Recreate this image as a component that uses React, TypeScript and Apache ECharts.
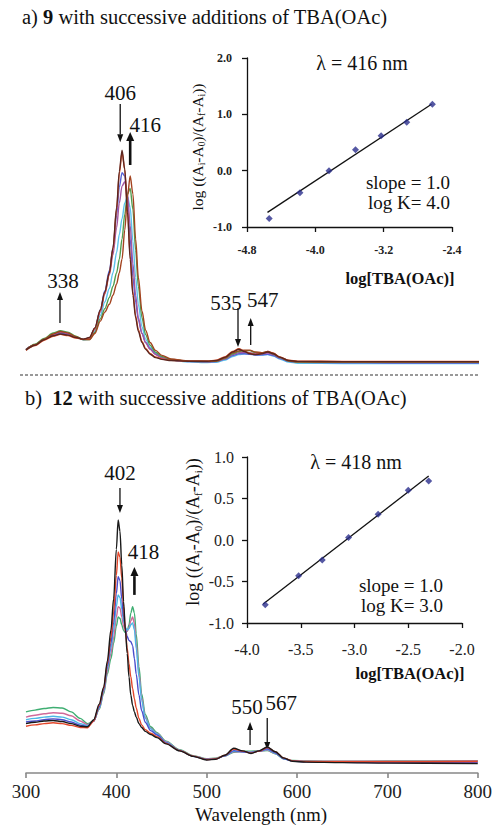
import React, { useEffect, useRef } from "react";
import * as echarts from "echarts";

const SERIF = "Liberation Serif, Times New Roman, serif";

// ---- Panel a: absorption spectra of 9 during titration ----
const wavelengthsA = [300, 310, 320, 330, 338, 346, 355, 363, 370, 376, 382, 387, 392, 396, 400, 403, 406, 409, 412, 415, 418, 421, 424, 428, 432, 437, 443, 450, 460, 480, 500, 510, 520, 528, 535, 541, 547, 553, 560, 567, 573, 580, 590, 600, 650, 700, 800];
const specA1 = [0.067, 0.088, 0.112, 0.13, 0.138, 0.133, 0.122, 0.115, 0.122, 0.165, 0.245, 0.325, 0.41, 0.52, 0.7, 0.86, 0.955, 0.87, 0.68, 0.47, 0.31, 0.21, 0.15, 0.1, 0.07, 0.048, 0.033, 0.025, 0.02, 0.017, 0.017, 0.02, 0.035, 0.058, 0.07, 0.06, 0.05, 0.046, 0.05, 0.058, 0.05, 0.035, 0.02, 0.016, 0.015, 0.015, 0.015];
const specA2 = [0.065, 0.086, 0.11, 0.128, 0.136, 0.131, 0.12, 0.114, 0.12, 0.162, 0.24, 0.32, 0.405, 0.515, 0.69, 0.85, 0.945, 0.868, 0.69, 0.485, 0.325, 0.22, 0.158, 0.105, 0.074, 0.051, 0.036, 0.027, 0.021, 0.018, 0.018, 0.021, 0.037, 0.06, 0.072, 0.062, 0.052, 0.047, 0.051, 0.06, 0.052, 0.036, 0.021, 0.017, 0.016, 0.016, 0.016];
const specA3 = [0.07, 0.09, 0.114, 0.133, 0.142, 0.136, 0.123, 0.114, 0.12, 0.163, 0.245, 0.33, 0.42, 0.52, 0.665, 0.79, 0.855, 0.84, 0.73, 0.56, 0.39, 0.28, 0.2, 0.14, 0.1, 0.072, 0.048, 0.032, 0.022, 0.015, 0.013, 0.015, 0.026, 0.042, 0.05, 0.05, 0.048, 0.044, 0.045, 0.048, 0.042, 0.03, 0.016, 0.012, 0.01, 0.009, 0.009];
const specA4 = [0.069, 0.09, 0.115, 0.136, 0.146, 0.14, 0.125, 0.114, 0.118, 0.158, 0.235, 0.315, 0.4, 0.49, 0.61, 0.72, 0.795, 0.815, 0.76, 0.62, 0.45, 0.31, 0.21, 0.14, 0.1, 0.07, 0.047, 0.032, 0.022, 0.016, 0.014, 0.016, 0.028, 0.046, 0.055, 0.056, 0.055, 0.05, 0.05, 0.053, 0.046, 0.032, 0.018, 0.013, 0.012, 0.012, 0.012];
const specA5 = [0.066, 0.088, 0.113, 0.135, 0.146, 0.14, 0.124, 0.112, 0.114, 0.15, 0.22, 0.28, 0.34, 0.41, 0.5, 0.58, 0.65, 0.72, 0.75, 0.7, 0.55, 0.39, 0.27, 0.17, 0.115, 0.078, 0.052, 0.034, 0.022, 0.014, 0.011, 0.012, 0.022, 0.038, 0.046, 0.05, 0.05, 0.045, 0.044, 0.046, 0.04, 0.027, 0.013, 0.008, 0.006, 0.006, 0.006];
const specA6 = [0.068, 0.092, 0.118, 0.142, 0.152, 0.146, 0.128, 0.113, 0.113, 0.145, 0.205, 0.25, 0.3, 0.35, 0.41, 0.47, 0.56, 0.67, 0.76, 0.785, 0.69, 0.51, 0.35, 0.21, 0.135, 0.088, 0.057, 0.038, 0.025, 0.016, 0.015, 0.017, 0.03, 0.05, 0.06, 0.064, 0.064, 0.056, 0.054, 0.058, 0.05, 0.034, 0.018, 0.013, 0.012, 0.012, 0.012];
const specA7 = [0.068, 0.09, 0.115, 0.138, 0.149, 0.143, 0.126, 0.113, 0.113, 0.14, 0.195, 0.235, 0.27, 0.31, 0.36, 0.41, 0.47, 0.6, 0.75, 0.84, 0.76, 0.56, 0.39, 0.24, 0.155, 0.1, 0.065, 0.043, 0.027, 0.017, 0.016, 0.018, 0.032, 0.054, 0.063, 0.066, 0.066, 0.058, 0.055, 0.06, 0.052, 0.035, 0.019, 0.014, 0.013, 0.013, 0.013];

// ---- Panel b: absorption spectra of 12 during titration ----
const wavelengthsB = [300, 310, 320, 330, 340, 350, 360, 368, 375, 381, 386, 390, 394, 397, 400, 402, 404, 406, 408, 410, 412, 414, 416, 418, 420, 422, 425, 428, 432, 438, 445, 455, 470, 485, 500, 510, 520, 530, 540, 549, 558, 567, 576, 585, 595, 610, 650, 700, 800];
const specB1 = [0.19, 0.195, 0.2, 0.202, 0.198, 0.19, 0.18, 0.178, 0.205, 0.265, 0.33, 0.43, 0.55, 0.67, 0.86, 0.973, 0.93, 0.8, 0.66, 0.55, 0.46, 0.37, 0.3, 0.26, 0.235, 0.215, 0.19, 0.175, 0.16, 0.148, 0.136, 0.112, 0.085, 0.064, 0.05, 0.053, 0.068, 0.095, 0.085, 0.075, 0.085, 0.1, 0.082, 0.058, 0.045, 0.042, 0.04, 0.038, 0.036];
const specB2 = [0.18, 0.185, 0.19, 0.193, 0.19, 0.183, 0.175, 0.174, 0.2, 0.26, 0.325, 0.42, 0.52, 0.62, 0.76, 0.85, 0.83, 0.75, 0.64, 0.55, 0.48, 0.42, 0.37, 0.325, 0.285, 0.25, 0.21, 0.185, 0.167, 0.153, 0.14, 0.114, 0.086, 0.065, 0.052, 0.054, 0.068, 0.092, 0.084, 0.076, 0.084, 0.098, 0.082, 0.058, 0.046, 0.044, 0.043, 0.043, 0.044];
const specB3 = [0.196, 0.2, 0.205, 0.208, 0.205, 0.196, 0.184, 0.178, 0.2, 0.255, 0.32, 0.41, 0.5, 0.58, 0.69, 0.755, 0.74, 0.67, 0.6, 0.555, 0.525, 0.51, 0.505, 0.49, 0.44, 0.38, 0.3, 0.24, 0.195, 0.163, 0.146, 0.116, 0.086, 0.064, 0.052, 0.054, 0.066, 0.086, 0.082, 0.078, 0.084, 0.093, 0.078, 0.056, 0.046, 0.043, 0.041, 0.04, 0.04];
const specB4 = [0.205, 0.21, 0.215, 0.218, 0.215, 0.205, 0.19, 0.182, 0.2, 0.25, 0.315, 0.4, 0.48, 0.55, 0.64, 0.685, 0.675, 0.63, 0.585, 0.56, 0.55, 0.555, 0.57, 0.577, 0.55, 0.48, 0.37, 0.28, 0.21, 0.17, 0.15, 0.118, 0.087, 0.065, 0.053, 0.055, 0.066, 0.083, 0.082, 0.08, 0.084, 0.09, 0.076, 0.055, 0.046, 0.044, 0.043, 0.043, 0.043];
const specB5 = [0.215, 0.222, 0.228, 0.232, 0.23, 0.22, 0.2, 0.186, 0.2, 0.248, 0.31, 0.39, 0.46, 0.52, 0.6, 0.64, 0.635, 0.6, 0.565, 0.545, 0.545, 0.56, 0.585, 0.6, 0.575, 0.5, 0.385, 0.29, 0.215, 0.172, 0.152, 0.12, 0.088, 0.066, 0.054, 0.056, 0.066, 0.082, 0.082, 0.081, 0.084, 0.088, 0.075, 0.055, 0.047, 0.045, 0.045, 0.045, 0.046];
const specB6 = [0.235, 0.242, 0.248, 0.252, 0.25, 0.235, 0.21, 0.19, 0.2, 0.245, 0.305, 0.38, 0.44, 0.5, 0.565, 0.6, 0.595, 0.57, 0.548, 0.54, 0.545, 0.57, 0.615, 0.64, 0.615, 0.535, 0.41, 0.305, 0.225, 0.178, 0.155, 0.122, 0.09, 0.067, 0.055, 0.057, 0.066, 0.08, 0.083, 0.084, 0.085, 0.086, 0.074, 0.055, 0.048, 0.046, 0.045, 0.046, 0.047];

// ---- Inset a: log ratio vs log[TBA(OAc)] at 416 nm ----
const logConcA = [-4.54, -4.18, -3.84, -3.53, -3.23, -2.93, -2.63];
const logRatioA = [-0.85, -0.39, 0.0, 0.37, 0.62, 0.86, 1.18];
const fitA = { slope: 1.0, intercept: 3.82, from: -4.56, to: -2.64 };

// ---- Inset b: log ratio vs log[TBA(OAc)] at 418 nm ----
const logConcB = [-3.83, -3.52, -3.3, -3.055, -2.78, -2.5, -2.31];
const logRatioB = [-0.78, -0.43, -0.24, 0.03, 0.31, 0.6, 0.71];
const fitB = { slope: 1.0, intercept: 3.08, from: -3.85, to: -2.31 };

// Peak annotations: arrow from/to absorbance at a wavelength, label offset in px
const arrowsA = [
  { text: "406", wl: 404, from: 1.16, to: 0.99, dx: 0, dy: -11, thick: false },
  { text: "416", wl: 415, from: 0.889, to: 1.036, dx: 15, dy: -7, thick: true },
  { text: "338", wl: 337.5, from: 0.187, to: 0.324, dx: 3, dy: -11, thick: false },
  { text: "535", wl: 534, from: 0.253, to: 0.08, dx: -12, dy: -5, thick: false },
  { text: "547", wl: 548, from: 0.089, to: 0.209, dx: 12, dy: -18, thick: false },
];
const arrowsB = [
  { text: "402", wl: 404, from: 1.096, to: 1.0, dx: 0, dy: -15, thick: false },
  { text: "418", wl: 420, from: 0.685, to: 0.792, dx: 9, dy: -15, thick: true },
  { text: "550", wl: 548, from: 0.108, to: 0.196, dx: -3, dy: -15, thick: false },
  { text: "567", wl: 567, from: 0.212, to: 0.088, dx: 14, dy: -15, thick: false },
];

const zip = (xs: number[], ys: number[]) => xs.map((x, i) => [x, ys[i]]);

function spectrum(name: string, xs: number[], ys: number[], color: string, grid: number) {
  return {
    name,
    type: "line",
    xAxisIndex: grid,
    yAxisIndex: grid,
    data: zip(xs, ys),
    showSymbol: false,
    smooth: 0.3,
    smoothMonotone: "x",
    lineStyle: { color, width: 1.4 },
    silent: true,
  };
}

function fitLine(fit: { slope: number; intercept: number; from: number; to: number }, grid: number) {
  return {
    type: "line",
    xAxisIndex: grid,
    yAxisIndex: grid,
    data: [
      [fit.from, fit.slope * fit.from + fit.intercept],
      [fit.to, fit.slope * fit.to + fit.intercept],
    ],
    showSymbol: false,
    lineStyle: { color: "#111", width: 1.3 },
    silent: true,
    z: 3,
  };
}

function points(xs: number[], ys: number[], grid: number) {
  return {
    type: "scatter",
    xAxisIndex: grid,
    yAxisIndex: grid,
    data: zip(xs, ys),
    symbol: "diamond",
    symbolSize: 7,
    itemStyle: { color: "#2b2e8c" },
    silent: true,
    z: 4,
  };
}

const fmt1 = (v: number) => v.toFixed(1);

function insetAxes(grid: number, xr: [number, number, number], yr: [number, number, number], font: number, bold: boolean, xMargin: number, yMargin: number) {
  const line = { lineStyle: { color: "#111", width: 1.3 } };
  const tick = { show: true, length: 5, lineStyle: { color: "#111", width: 1.3 } };
  const label = {
    fontFamily: SERIF,
    fontSize: font,
    fontWeight: bold ? "bold" : "normal",
    color: "#222",
    formatter: fmt1,
  };
  return {
    x: {
      gridIndex: grid, type: "value", min: xr[0], max: xr[1], interval: xr[2],
      axisLine: { show: true, onZero: false, ...line }, axisTick: tick,
      axisLabel: { ...label, margin: xMargin }, splitLine: { show: false },
    },
    y: {
      gridIndex: grid, type: "value", min: yr[0], max: yr[1], interval: yr[2],
      axisLine: { show: true, onZero: false, ...line }, axisTick: tick,
      axisLabel: { ...label, margin: yMargin }, splitLine: { show: false },
    },
  };
}

function buildOption() {
  const insA = insetAxes(2, [-4.8, -2.4, 0.8], [-1, 2, 1], 12, true, 17, 15);
  const insB = insetAxes(3, [-4, -2, 0.5], [-1, 1, 0.5], 16, false, 18, 13);
  return {
    animation: false,
    backgroundColor: "#ffffff",
    textStyle: { fontFamily: SERIF },
    grid: [
      { left: 26, top: 140, width: 453, height: 225 },
      { left: 26, top: 513, width: 453, height: 260 },
      { left: 247, top: 58, width: 205, height: 169 },
      { left: 247, top: 457, width: 215, height: 166 },
    ],
    xAxis: [
      { gridIndex: 0, type: "value", min: 300, max: 800, show: false },
      {
        gridIndex: 1, type: "value", min: 300, max: 800, interval: 100,
        axisLine: { show: true, onZero: false, lineStyle: { color: "#888", width: 1.6 } },
        axisTick: { show: true, length: 5, lineStyle: { color: "#888", width: 1.6 } },
        axisLabel: { fontFamily: SERIF, fontSize: 19, color: "#222", margin: 9 },
        splitLine: { show: false },
      },
      insA.x,
      insB.x,
    ],
    yAxis: [
      { gridIndex: 0, type: "value", min: 0, max: 1, show: false },
      { gridIndex: 1, type: "value", min: 0, max: 1, show: false },
      insA.y,
      insB.y,
    ],
    series: [
      spectrum("a5", wavelengthsA, specA5, "#5cc2ec", 0),
      spectrum("a3", wavelengthsA, specA3, "#5662d6", 0),
      spectrum("a4", wavelengthsA, specA4, "#a4569f", 0),
      spectrum("a6", wavelengthsA, specA6, "#4f9d4f", 0),
      spectrum("a2", wavelengthsA, specA2, "#e4572e", 0),
      spectrum("a7", wavelengthsA, specA7, "#a3431f", 0),
      spectrum("a1", wavelengthsA, specA1, "#5a2620", 0),
      spectrum("b6", wavelengthsB, specB6, "#3fae72", 1),
      spectrum("b5", wavelengthsB, specB5, "#d06a9a", 1),
      spectrum("b4", wavelengthsB, specB4, "#4cb8e6", 1),
      spectrum("b3", wavelengthsB, specB3, "#4a4ccc", 1),
      spectrum("b2", wavelengthsB, specB2, "#e4462a", 1),
      spectrum("b1", wavelengthsB, specB1, "#1a1a1a", 1),
      fitLine(fitA, 2),
      points(logConcA, logRatioA, 2),
      fitLine(fitB, 3),
      points(logConcB, logRatioB, 3),
    ],
  };
}

const txt = (x: number, y: number, text: string, size: number, align = "center", weight = "normal") => ({
  type: "text",
  x,
  y,
  silent: true,
  style: {
    text,
    fontFamily: SERIF,
    fontSize: size,
    fontWeight: weight,
    fill: "#111",
    align,
    verticalAlign: "middle",
  },
});

function richTitle(x: number, y: number, prefix: string, num: string) {
  return {
    type: "text",
    x,
    y,
    silent: true,
    style: {
      text: `{n|${prefix}}{b|${num}}{n| with successive additions of TBA(OAc)}`,
      align: "left",
      verticalAlign: "middle",
      fontFamily: SERIF,
      rich: {
        n: { fontFamily: SERIF, fontSize: 20.5, fill: "#111" },
        b: { fontFamily: SERIF, fontSize: 20.5, fontWeight: "bold", fill: "#111" },
      },
    },
  };
}

function ratioAxisName(x: number, y: number, size: number) {
  return {
    type: "text",
    x,
    y,
    rotation: Math.PI / 2,
    silent: true,
    style: {
      text: "{n|log ((A}{s|i}{n|-A}{s|0}{n|)/(A}{s|f}{n|-A}{s|i}{n|))}",
      align: "center",
      verticalAlign: "middle",
      fontFamily: SERIF,
      rich: {
        n: { fontFamily: SERIF, fontSize: size, fill: "#111", lineHeight: size + 3 },
        s: { fontFamily: SERIF, fontSize: size * 0.6, fill: "#111", lineHeight: size + 3, verticalAlign: "bottom" },
      },
    },
  };
}

function buildGraphics(chart: any) {
  const out: any[] = [
    richTitle(22, 17, "a) ", "9"),
    richTitle(25, 398, "b)  ", "12"),
    {
      type: "line",
      silent: true,
      shape: { x1: 20, y1: 375, x2: 478, y2: 375 },
      style: { stroke: "#333", lineWidth: 1.2, lineDash: [3, 2] },
    },
    txt(362, 63, "λ = 416 nm", 20),
    txt(450, 182, "slope = 1.0", 19, "right"),
    txt(450, 202, "log K= 4.0", 19, "right"),
    txt(400, 278, "log[TBA(OAc)]", 16.5, "center", "bold"),
    ratioAxisName(197, 147, 15.5),
    txt(356, 462, "λ = 418 nm", 20),
    txt(443, 585, "slope = 1.0", 19, "right"),
    txt(443, 605, "log K= 3.0", 19, "right"),
    txt(410, 673, "log[TBA(OAc)]", 16.5, "center", "bold"),
    ratioAxisName(193, 532, 18),
    txt(261, 814.5, "Wavelength (nm)", 19),
  ];

  const addArrows = (grid: number, list: typeof arrowsA) => {
    list.forEach((a) => {
      const p1 = chart.convertToPixel({ gridIndex: grid }, [a.wl, a.from]);
      const p2 = chart.convertToPixel({ gridIndex: grid }, [a.wl, a.to]);
      const w = a.thick ? 8 : 6;
      const h = a.thick ? 9 : 8;
      const dir = p2[1] < p1[1] ? -1 : 1; // -1 = pointing up
      const baseY = p2[1] - dir * h;
      out.push({
        type: "line",
        silent: true,
        shape: { x1: p1[0], y1: p1[1], x2: p2[0], y2: baseY },
        style: { stroke: "#111", lineWidth: a.thick ? 2.6 : 1.3 },
      });
      out.push({
        type: "polygon",
        silent: true,
        shape: { points: [[p2[0], p2[1]], [p2[0] - w / 2, baseY], [p2[0] + w / 2, baseY]] },
        style: { fill: "#111" },
      });
      const topY = Math.min(p1[1], p2[1]);
      out.push(txt(p1[0] + a.dx, topY + a.dy, a.text, 21));
    });
  };
  addArrows(0, arrowsA);
  addArrows(1, arrowsB);
  return out;
}

export default function App() {
  const ref = useRef<HTMLDivElement>(null);
  useEffect(() => {
    document.body.style.margin = "0";
    const chart = echarts.init(ref.current!, undefined, { renderer: "svg" });
    chart.setOption(buildOption());
    chart.setOption({ graphic: buildGraphics(chart) });
    return () => chart.dispose();
  }, []);
  return <div ref={ref} style={{ width: 495, height: 825 }} />;
}
